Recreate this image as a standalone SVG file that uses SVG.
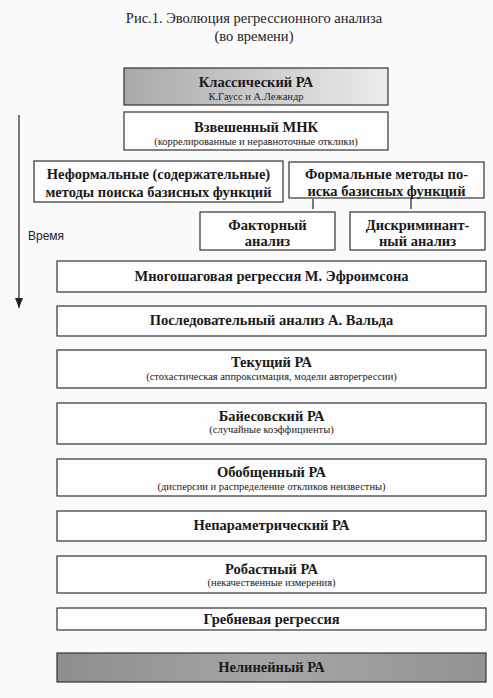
<svg xmlns="http://www.w3.org/2000/svg" width="493" height="698" viewBox="0 0 493 698">
<defs>
<linearGradient id="g1" x1="0" y1="0" x2="1" y2="0">
<stop offset="0" stop-color="#a9a9a9"/><stop offset="1" stop-color="#ececec"/>
</linearGradient>
<linearGradient id="g2" x1="0" y1="0" x2="1" y2="0">
<stop offset="0" stop-color="#8e8e8e"/><stop offset="0.5" stop-color="#a6a6a6"/><stop offset="1" stop-color="#939393"/>
</linearGradient>
<marker id="ah" markerWidth="10" markerHeight="8" refX="10" refY="4" orient="auto" markerUnits="userSpaceOnUse" viewBox="0 0 10 8">
<path d="M0,0 L10,4 L0,8 Z" fill="#222"/>
</marker>
<style>
.b{fill:#fdfdfd;stroke:#333;stroke-width:1.2}
.t{font-family:"Liberation Serif","Times New Roman",serif;font-weight:bold;font-size:14.5px;fill:#1a1a1a;text-anchor:middle}
.s{font-family:"Liberation Serif","Times New Roman",serif;font-size:10.5px;fill:#222;text-anchor:middle}
.h{font-family:"Liberation Serif","Times New Roman",serif;font-size:14.5px;fill:#222;text-anchor:middle}
.ln{stroke:#222;stroke-width:1.2;fill:none}
</style>
</defs>
<rect width="493" height="698" fill="#fafafa"/>
<text class="h" x="254" y="23">Рис.1. Эволюция регрессионного анализа</text>
<text class="h" x="254" y="41">(во времени)</text>

<g id="connectors">
<line class="ln" x1="19" y1="115" x2="19" y2="308" marker-end="url(#ah)"/>
<line class="ln" x1="313" y1="199" x2="313" y2="209"/>
<line class="ln" x1="411" y1="199" x2="411" y2="209"/>
</g>
<text x="28" y="240" style="font-family:'Liberation Sans',Arial,sans-serif;font-size:12px;fill:#222">Время</text>

<g id="n1"><rect x="124" y="68" width="264" height="37" fill="url(#g1)" stroke="#333" stroke-width="1.2"/>
<text class="t" x="256" y="87">Классический РА</text><text class="s" x="256" y="100">К.Гаусс и А.Лежандр</text></g>

<g id="n2"><rect class="b" x="124" y="112" width="264" height="38"/>
<text class="t" x="256" y="132">Взвешенный МНК</text><text class="s" x="256" y="145">(коррелированные и неравноточные отклики)</text></g>

<g id="n3"><rect class="b" x="34" y="161" width="249" height="41"/>
<text class="t" x="158.5" y="179">Неформальные (содержательные)</text><text class="t" x="158.5" y="197">методы поиска базисных функций</text></g>

<g id="n4"><rect class="b" x="289" y="162" width="195" height="36"/>
<text class="t" x="386.5" y="179">Формальные методы по-</text><text class="t" x="386.5" y="196">иска базисных функций</text></g>

<g id="n5"><rect class="b" x="200" y="212" width="135" height="38"/>
<text class="t" x="267.5" y="230">Факторный</text><text class="t" x="267.5" y="246">анализ</text></g>

<g id="n6"><rect class="b" x="350" y="212" width="135" height="38"/>
<text class="t" x="417.5" y="230">Дискриминант-</text><text class="t" x="417.5" y="246">ный анализ</text></g>

<g id="n7"><rect class="b" x="57" y="261" width="429" height="31"/>
<text class="t" x="271.5" y="281">Многошаговая регрессия М. Эфроимсона</text></g>

<g id="n8"><rect class="b" x="57" y="306" width="429" height="30"/>
<text class="t" x="271.5" y="325">Последовательный анализ А. Вальда</text></g>

<g id="n9"><rect class="b" x="57" y="350" width="429" height="38"/>
<text class="t" x="271.5" y="367">Текущий РА</text><text class="s" x="271.5" y="380">(стохастическая аппроксимация, модели авторегрессии)</text></g>

<g id="n10"><rect class="b" x="57" y="403" width="429" height="41"/>
<text class="t" x="271.5" y="421">Байесовский РА</text><text class="s" x="271.5" y="433">(случайные коэффициенты)</text></g>

<g id="n11"><rect class="b" x="57" y="459" width="429" height="37"/>
<text class="t" x="271.5" y="477">Обобщенный РА</text><text class="s" x="271.5" y="490">(дисперсии и распределение откликов неизвестны)</text></g>

<g id="n12"><rect class="b" x="57" y="511" width="429" height="30"/>
<text class="t" x="271.5" y="530">Непараметрический РА</text></g>

<g id="n13"><rect class="b" x="57" y="556" width="429" height="37"/>
<text class="t" x="271.5" y="574">Робастный РА</text><text class="s" x="271.5" y="586">(некачественные измерения)</text></g>

<g id="n14"><rect class="b" x="57" y="608" width="429" height="22"/>
<text class="t" x="271.5" y="624">Гребневая регрессия</text></g>

<g id="n15"><rect x="57" y="653" width="429" height="29" fill="url(#g2)" stroke="#333" stroke-width="1.2"/>
<text class="t" x="271.5" y="672">Нелинейный РА</text></g>
</svg>
